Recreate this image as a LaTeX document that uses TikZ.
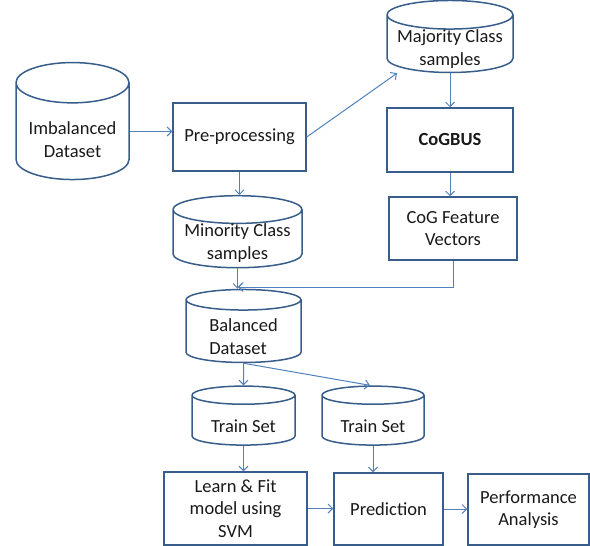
\documentclass[tikz,border=0pt]{standalone}
\usepackage{fontspec}
\setmainfont{Carlito}
\usetikzlibrary{shapes.geometric,arrows,arrows.meta}
\definecolor{boxblue}{HTML}{385D8A}
\definecolor{arrblue}{HTML}{4F81BD}
\newcommand{\dbtext}[3][c]{\raisebox{-#2}[0pt][0pt]{\begin{tabular}[b]{@{}#1@{}}#3\end{tabular}}}
\tikzset{
  box/.style={draw=boxblue, line width=1.5pt, rectangle, inner sep=0pt, align=center, text=black!90, font=\fontsize{18.5}{22.5}\selectfont},
  db/.style={draw=boxblue, line width=1.5pt, cylinder, shape border rotate=90, inner sep=0pt, text=black!90, font=\fontsize{18.5}{22.5}\selectfont},
  arr/.style={-{Straight Barb[length=4.5pt,width=9pt]}, draw=arrblue, line width=1pt}
}
\begin{document}
\begin{tikzpicture}[x=1pt, y=-1pt]
  \useasboundingbox (0,0) rectangle (590,546);
  \node[db, minimum width=113pt, minimum height=117pt, aspect=0.46] (imb) at (72.5, 131.5) {\dbtext{25.5pt}{Imbalanced\\Dataset}};
  \node[box, minimum width=133pt, minimum height=68pt] (pre) at (239.5, 137) {Pre-processing};
  \node[db, minimum width=126pt, minimum height=72pt, aspect=0.27] (maj) at (450, 44) {\dbtext{21pt}{Majority Class\\samples}};
  \node[box, minimum width=126pt, minimum height=64pt, font=\fontsize{18.5}{22.5}\selectfont\bfseries] (cog) at (450, 140) {CoGBUS};
  \node[box, minimum width=128pt, minimum height=63pt] (vec) at (453, 228.5) {CoG Feature\\Vectors};
  \node[db, minimum width=129pt, minimum height=72pt, aspect=0.26] (min) at (237.5, 239) {\dbtext{20pt}{Minority Class\\samples}};
  \node[db, minimum width=115pt, minimum height=73pt, aspect=0.3] (bal) at (243.5, 331.5) {\dbtext[l]{22.5pt}{Balanced\\Dataset}};
  \node[db, minimum width=103pt, minimum height=59pt, aspect=0.28] (tra) at (243.5, 420.5) {\dbtext{11.5pt}{Train Set}};
  \node[db, minimum width=102pt, minimum height=59pt, aspect=0.28] (tst) at (373, 420.5) {\dbtext{11.5pt}{Train Set}};
  \node[box, minimum width=143pt, minimum height=73pt] (fit) at (235.5, 508.5) {Learn \& Fit\\model using\\SVM};
  \node[box, minimum width=109pt, minimum height=72pt] (pred) at (388.5, 509) {Prediction};
  \node[box, minimum width=121pt, minimum height=71pt] (perf) at (528.5, 509.5) {Performance\\Analysis};
  \coordinate (j) at (238, 287);
  \draw[arr] (imb.east) -- (pre.west |- imb.east);
  \draw[arr] (pre.east) -- ([xshift=-53pt]maj.south);
  \draw[arr] (maj.south) -- (cog.north);
  \draw[arr] (cog.south) -- (cog.south |- vec.north);
  \draw[arr] (pre.south) -- (pre.south |- min.north);
  \draw[arr] (vec.south) |- (j);
  \draw[arr] (min.south) -- (min.south |- bal.north);
  \draw[arr] (bal.south) -- (tra.north);
  \draw[arr] (bal.south) -- ([xshift=-3pt]tst.north);
  \draw[arr] (tra.south) -- (tra.south |- fit.north);
  \draw[arr] (tst.south) -- (tst.south |- pred.north);
  \draw[arr] (fit.east) -- (pred.west |- fit.east);
  \draw[arr] (pred.east) -- (perf.west |- pred.east);
\end{tikzpicture}
\end{document}
